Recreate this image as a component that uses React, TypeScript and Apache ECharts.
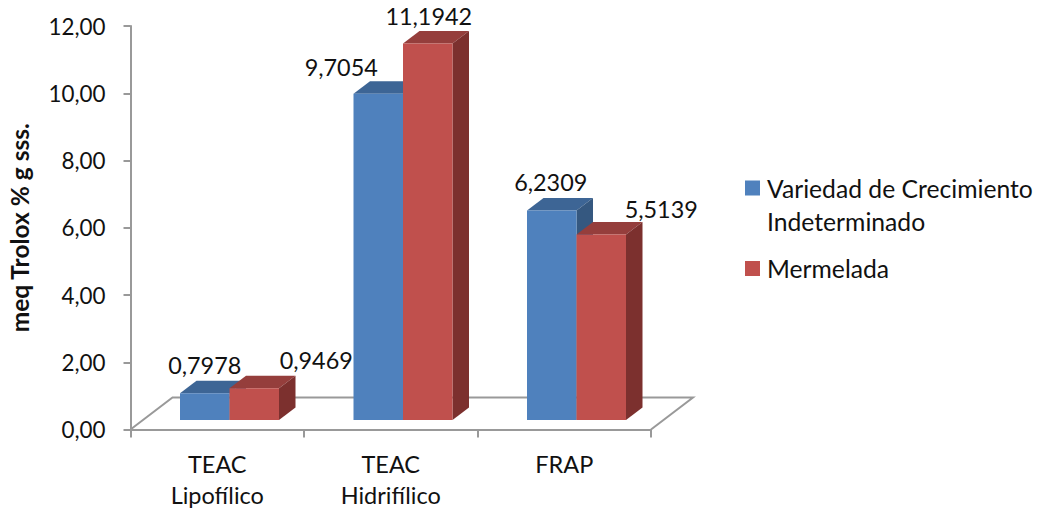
import React, { useEffect, useRef } from "react";
import * as echarts from "echarts";

const categories = ["TEAC\nLipofílico", "TEAC\nHidrifílico", "FRAP"];
const tickValues = [0, 2, 4, 6, 8, 10, 12];
const seriesNames = ["Variedad de Crecimiento\nIndeterminado", "Mermelada"];
const varietyValues = [0.7978, 9.7054, 6.2309];
const jamValues = [0.9469, 11.1942, 5.5139];

// Layout (pixels), separate from the data
const FONT = "Lato, Carlito, sans-serif";
const GRID = { left: 130.5, top: 26, width: 520.5, height: 403.5 };
const AXIS_COLOR = "#999999";
const BAR_W = 49.5;
const DEPTH_X = 16.5;
const DEPTH_Y = 12.5;
const FLOOR_LIFT = 9.5;
const BAR_SHIFT = 12.25;
const LABEL_OFFSETS = [
  [[0, -28], [62, -28]],
  [[-37, -27], [1, -28]],
  [[-1, -28], [60, -26]],
];
const PALETTE = [
  { front: "#4F81BD", top: "#3D6595", side: "#355880" },
  { front: "#C0504D", top: "#953E3C", side: "#7C302E" },
];

const fmt = (v: number, d: number) => v.toFixed(d).replace(".", ",");

const renderBar = (params: any, api: any) => {
  const s = params.seriesIndex;
  const c = api.value(0);
  const v = api.value(1);
  const [cx, y0] = api.coord([c, 0]);
  const [, yv] = api.coord([c, v]);
  const x0 = cx + BAR_SHIFT - BAR_W + s * BAR_W;
  const x1 = x0 + BAR_W;
  const base = y0 - FLOOR_LIFT;
  const top = yv - FLOOR_LIFT;
  const col = PALETTE[s];
  const [ox, oy] = LABEL_OFFSETS[c][s];
  return {
    type: "group",
    children: [
      {
        type: "polygon",
        shape: { points: [[x0, top], [x0 + DEPTH_X, top - DEPTH_Y], [x1 + DEPTH_X, top - DEPTH_Y], [x1, top]] },
        style: { fill: col.top },
      },
      {
        type: "polygon",
        shape: { points: [[x1, top], [x1 + DEPTH_X, top - DEPTH_Y], [x1 + DEPTH_X, base - DEPTH_Y], [x1, base]] },
        style: { fill: col.side },
      },
      {
        type: "rect",
        shape: { x: x0, y: top, width: BAR_W, height: base - top },
        style: { fill: col.front },
      },
      {
        type: "text",
        z2: 10,
        style: {
          text: fmt(v, 4),
          x: (x0 + x1) / 2 + ox,
          y: top + oy,
          align: "center",
          verticalAlign: "middle",
          fill: "#111111",
          font: `23.4px ${FONT}`,
        },
      },
    ],
  };
};

const squareIcon = (topY: number) =>
  `path://M0 ${topY}h15v15h-15z M0 0h0v0z M17 48h0v0z`;

export default function App() {
  const ref = useRef<HTMLDivElement>(null);
  useEffect(() => {
    if (!ref.current) return;
    const chart = echarts.init(ref.current, undefined, { renderer: "svg" });
    const b = GRID.top + GRID.height;
    const r = GRID.left + GRID.width;
    chart.setOption({
      animation: false,
      backgroundColor: "#ffffff",
      textStyle: { fontFamily: FONT },
      grid: { ...GRID, containLabel: false, outerBoundsMode: "none" },
      xAxis: {
        type: "category",
        data: categories,
        boundaryGap: true,
        axisLine: { show: true, lineStyle: { color: AXIS_COLOR, width: 2 } },
        axisTick: { show: true, alignWithLabel: false, length: 8, lineStyle: { color: AXIS_COLOR, width: 2 } },
        axisLabel: { color: "#111111", fontSize: 23.5, fontFamily: FONT, lineHeight: 31, margin: 19, interval: 0 },
      },
      yAxis: {
        type: "value",
        min: tickValues[0],
        max: tickValues[tickValues.length - 1],
        interval: 2,
        name: "meq Trolox % g sss.",
        nameLocation: "middle",
        nameRotate: 90,
        nameGap: 98.5,
        nameTextStyle: { color: "#111111", fontSize: 24.5, fontWeight: "bold", fontFamily: FONT },
        splitLine: { show: false },
        axisLine: { show: true, lineStyle: { color: AXIS_COLOR, width: 2 } },
        axisTick: { show: true, length: 7, lineStyle: { color: AXIS_COLOR, width: 2 } },
        axisLabel: { color: "#111111", fontSize: 22.4, fontFamily: FONT, margin: 25, formatter: (v: number) => fmt(v, 2) },
      },
      legend: {
        show: true,
        left: 745,
        top: 171.5,
        orient: "vertical",
        itemWidth: 17,
        itemHeight: 48,
        itemGap: 7,
        padding: 0,
        selectedMode: false,
        textStyle: { color: "#111111", fontSize: 24.7, lineHeight: 33, fontFamily: FONT },
        data: [
          { name: seriesNames[0], icon: squareIcon(0) },
          { name: seriesNames[1], icon: squareIcon(16.5) },
        ],
      },
      graphic: [
        {
          type: "polyline",
          silent: true,
          z: 0,
          shape: {
            points: [
              [GRID.left, b],
              [GRID.left + 42, b - 32],
              [r + 42, b - 32],
              [r, b],
            ],
          },
          style: { stroke: AXIS_COLOR, lineWidth: 2, fill: "none" },
        },
      ],
      series: [
        {
          type: "custom",
          name: seriesNames[0],
          renderItem: renderBar,
          clip: false,
          itemStyle: { color: PALETTE[0].front },
          encode: { x: 0, y: 1 },
          data: varietyValues.map((v, i) => [i, v]),
        },
        {
          type: "custom",
          name: seriesNames[1],
          renderItem: renderBar,
          clip: false,
          itemStyle: { color: PALETTE[1].front },
          encode: { x: 0, y: 1 },
          data: jamValues.map((v, i) => [i, v]),
        },
      ],
    });
    return () => chart.dispose();
  }, []);
  return <div ref={ref} style={{ position: "absolute", left: 0, top: 0, width: 1040, height: 511 }} />;
}
